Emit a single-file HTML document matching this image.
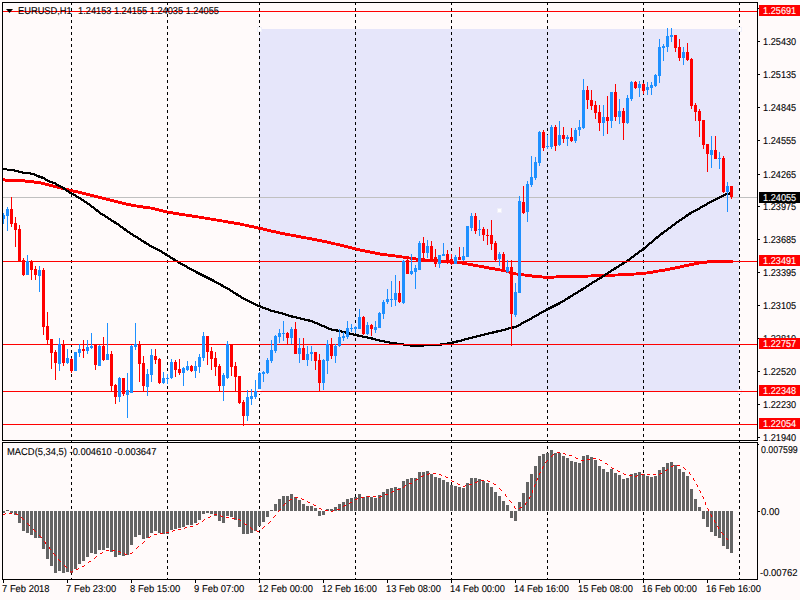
<!DOCTYPE html><html><head><meta charset="utf-8"><style>html,body{margin:0;padding:0;background:#fffafa;}svg{display:block;}text{font-family:"Liberation Sans", sans-serif;text-rendering:geometricPrecision;}</style></head><body>
<svg width="800" height="600" viewBox="0 0 800 600">
<rect x="0" y="0" width="800" height="600" fill="#fffafa"/>
<rect x="259" y="29" width="480" height="362" fill="#e6e6fa"/>
<rect x="3" y="197" width="754" height="1" fill="#c0c0c0"/>
<g stroke="#000" stroke-width="1" stroke-dasharray="3 3" shape-rendering="crispEdges"><line x1="71.5" y1="2" x2="71.5" y2="580" /><line x1="167.5" y1="2" x2="167.5" y2="580" /><line x1="259.5" y1="2" x2="259.5" y2="580" /><line x1="355.5" y1="2" x2="355.5" y2="580" /><line x1="451.5" y1="2" x2="451.5" y2="580" /><line x1="547.5" y1="2" x2="547.5" y2="580" /><line x1="643.5" y1="2" x2="643.5" y2="580" /><line x1="739.5" y1="2" x2="739.5" y2="580" /></g>
<g fill="#ff0000"><rect x="3" y="178" width="2" height="3"/><rect x="5" y="179" width="20" height="3"/><rect x="25" y="180" width="9" height="3"/><rect x="34" y="181" width="7" height="3"/><rect x="41" y="182" width="4" height="3"/><rect x="45" y="183" width="4" height="3"/><rect x="49" y="184" width="4" height="3"/><rect x="53" y="185" width="4" height="3"/><rect x="57" y="186" width="4" height="3"/><rect x="61" y="187" width="4" height="3"/><rect x="65" y="188" width="4" height="3"/><rect x="69" y="189" width="4" height="3"/><rect x="73" y="190" width="5" height="3"/><rect x="78" y="191" width="4" height="3"/><rect x="82" y="192" width="4" height="3"/><rect x="86" y="193" width="4" height="3"/><rect x="90" y="194" width="4" height="3"/><rect x="94" y="195" width="4" height="3"/><rect x="98" y="196" width="4" height="3"/><rect x="102" y="197" width="4" height="3"/><rect x="106" y="198" width="4" height="3"/><rect x="110" y="199" width="4" height="3"/><rect x="114" y="200" width="4" height="3"/><rect x="118" y="201" width="4" height="3"/><rect x="122" y="202" width="4" height="3"/><rect x="126" y="203" width="5" height="3"/><rect x="131" y="204" width="5" height="3"/><rect x="136" y="205" width="1" height="2"/><rect x="137" y="205" width="6" height="3"/><rect x="143" y="206" width="7" height="3"/><rect x="150" y="207" width="1" height="2"/><rect x="151" y="207" width="4" height="3"/><rect x="155" y="208" width="4" height="3"/><rect x="159" y="209" width="4" height="3"/><rect x="163" y="210" width="4" height="3"/><rect x="167" y="211" width="1" height="2"/><rect x="168" y="211" width="5" height="3"/><rect x="173" y="212" width="6" height="3"/><rect x="179" y="213" width="6" height="3"/><rect x="185" y="214" width="1" height="2"/><rect x="186" y="214" width="6" height="3"/><rect x="192" y="215" width="6" height="3"/><rect x="198" y="216" width="1" height="2"/><rect x="199" y="216" width="5" height="3"/><rect x="204" y="217" width="1" height="2"/><rect x="205" y="217" width="5" height="3"/><rect x="210" y="218" width="1" height="2"/><rect x="211" y="218" width="5" height="3"/><rect x="216" y="219" width="1" height="2"/><rect x="217" y="219" width="5" height="3"/><rect x="222" y="220" width="1" height="2"/><rect x="223" y="220" width="5" height="3"/><rect x="228" y="221" width="6" height="3"/><rect x="234" y="222" width="6" height="3"/><rect x="240" y="223" width="4" height="3"/><rect x="244" y="224" width="1" height="2"/><rect x="245" y="224" width="4" height="3"/><rect x="249" y="225" width="5" height="3"/><rect x="254" y="226" width="4" height="3"/><rect x="258" y="227" width="5" height="3"/><rect x="263" y="228" width="4" height="3"/><rect x="267" y="229" width="4" height="3"/><rect x="271" y="230" width="5" height="3"/><rect x="276" y="231" width="4" height="3"/><rect x="280" y="232" width="5" height="3"/><rect x="285" y="233" width="5" height="3"/><rect x="290" y="234" width="1" height="2"/><rect x="291" y="234" width="5" height="3"/><rect x="296" y="235" width="5" height="3"/><rect x="301" y="236" width="5" height="3"/><rect x="306" y="237" width="1" height="2"/><rect x="307" y="237" width="5" height="3"/><rect x="312" y="238" width="5" height="3"/><rect x="317" y="239" width="5" height="3"/><rect x="322" y="240" width="5" height="3"/><rect x="327" y="241" width="4" height="3"/><rect x="331" y="242" width="4" height="3"/><rect x="335" y="243" width="1" height="2"/><rect x="336" y="243" width="4" height="3"/><rect x="340" y="244" width="4" height="3"/><rect x="344" y="245" width="4" height="3"/><rect x="348" y="246" width="4" height="3"/><rect x="352" y="247" width="4" height="3"/><rect x="356" y="248" width="4" height="3"/><rect x="360" y="249" width="5" height="3"/><rect x="365" y="250" width="5" height="3"/><rect x="370" y="251" width="5" height="3"/><rect x="375" y="252" width="5" height="3"/><rect x="380" y="253" width="7" height="3"/><rect x="387" y="254" width="1" height="2"/><rect x="388" y="254" width="7" height="3"/><rect x="395" y="255" width="1" height="2"/><rect x="396" y="255" width="6" height="3"/><rect x="402" y="256" width="1" height="2"/><rect x="403" y="256" width="6" height="3"/><rect x="409" y="257" width="1" height="2"/><rect x="410" y="257" width="6" height="3"/><rect x="416" y="258" width="9" height="3"/><rect x="425" y="259" width="2" height="2"/><rect x="427" y="259" width="12" height="3"/><rect x="439" y="260" width="2" height="2"/><rect x="441" y="260" width="10" height="3"/><rect x="451" y="261" width="1" height="2"/><rect x="452" y="261" width="10" height="3"/><rect x="462" y="262" width="5" height="3"/><rect x="467" y="263" width="1" height="2"/><rect x="468" y="263" width="5" height="3"/><rect x="473" y="264" width="5" height="3"/><rect x="478" y="265" width="1" height="2"/><rect x="479" y="265" width="5" height="3"/><rect x="484" y="266" width="5" height="3"/><rect x="489" y="267" width="6" height="3"/><rect x="495" y="268" width="5" height="3"/><rect x="500" y="269" width="1" height="2"/><rect x="501" y="269" width="4" height="3"/><rect x="505" y="270" width="1" height="2"/><rect x="506" y="270" width="3" height="3"/><rect x="509" y="271" width="3" height="3"/><rect x="512" y="272" width="4" height="3"/><rect x="516" y="273" width="1" height="2"/><rect x="517" y="273" width="7" height="3"/><rect x="524" y="274" width="1" height="2"/><rect x="525" y="274" width="7" height="3"/><rect x="532" y="275" width="10" height="3"/><rect x="542" y="276" width="1" height="2"/><rect x="543" y="276" width="11" height="3"/><rect x="554" y="276" width="2" height="2"/><rect x="556" y="275" width="32" height="3"/><rect x="588" y="275" width="3" height="2"/><rect x="591" y="274" width="24" height="3"/><rect x="615" y="274" width="3" height="2"/><rect x="618" y="273" width="16" height="3"/><rect x="634" y="273" width="2" height="2"/><rect x="636" y="272" width="10" height="3"/><rect x="646" y="272" width="1" height="2"/><rect x="647" y="271" width="6" height="3"/><rect x="653" y="270" width="5" height="3"/><rect x="658" y="270" width="1" height="2"/><rect x="659" y="269" width="6" height="3"/><rect x="665" y="268" width="5" height="3"/><rect x="670" y="267" width="5" height="3"/><rect x="675" y="266" width="5" height="3"/><rect x="680" y="265" width="4" height="3"/><rect x="684" y="264" width="5" height="3"/><rect x="689" y="263" width="5" height="3"/><rect x="694" y="262" width="5" height="3"/><rect x="699" y="262" width="1" height="2"/><rect x="700" y="261" width="7" height="3"/><rect x="707" y="260" width="26" height="3"/></g>
<g fill="#000000"><rect x="3" y="168" width="4" height="2"/><rect x="7" y="169" width="7" height="2"/><rect x="14" y="169" width="1" height="3"/><rect x="15" y="170" width="3" height="2"/><rect x="18" y="170" width="1" height="3"/><rect x="19" y="171" width="3" height="2"/><rect x="22" y="171" width="1" height="3"/><rect x="23" y="172" width="7" height="2"/><rect x="30" y="172" width="1" height="3"/><rect x="31" y="173" width="3" height="2"/><rect x="34" y="173" width="1" height="3"/><rect x="35" y="174" width="1" height="2"/><rect x="36" y="174" width="1" height="3"/><rect x="37" y="175" width="1" height="2"/><rect x="38" y="175" width="2" height="3"/><rect x="40" y="176" width="1" height="2"/><rect x="41" y="176" width="2" height="3"/><rect x="43" y="177" width="1" height="2"/><rect x="44" y="177" width="1" height="3"/><rect x="45" y="178" width="1" height="3"/><rect x="46" y="179" width="1" height="2"/><rect x="47" y="179" width="1" height="3"/><rect x="48" y="180" width="1" height="2"/><rect x="49" y="180" width="1" height="3"/><rect x="50" y="181" width="2" height="2"/><rect x="52" y="181" width="1" height="3"/><rect x="53" y="182" width="2" height="2"/><rect x="55" y="182" width="1" height="3"/><rect x="56" y="183" width="1" height="3"/><rect x="57" y="184" width="1" height="2"/><rect x="58" y="184" width="1" height="3"/><rect x="59" y="185" width="1" height="2"/><rect x="60" y="185" width="1" height="3"/><rect x="61" y="186" width="1" height="2"/><rect x="62" y="186" width="1" height="3"/><rect x="63" y="187" width="2" height="3"/><rect x="65" y="188" width="1" height="3"/><rect x="66" y="189" width="1" height="3"/><rect x="67" y="190" width="1" height="2"/><rect x="68" y="190" width="1" height="3"/><rect x="69" y="191" width="1" height="3"/><rect x="70" y="192" width="1" height="2"/><rect x="71" y="192" width="1" height="3"/><rect x="72" y="193" width="1" height="2"/><rect x="73" y="193" width="1" height="3"/><rect x="74" y="194" width="1" height="2"/><rect x="75" y="194" width="1" height="3"/><rect x="76" y="195" width="1" height="3"/><rect x="77" y="196" width="1" height="2"/><rect x="78" y="196" width="1" height="3"/><rect x="79" y="197" width="1" height="2"/><rect x="80" y="197" width="1" height="3"/><rect x="81" y="198" width="1" height="3"/><rect x="82" y="199" width="1" height="2"/><rect x="83" y="199" width="1" height="3"/><rect x="84" y="200" width="1" height="3"/><rect x="85" y="201" width="1" height="2"/><rect x="86" y="201" width="1" height="3"/><rect x="87" y="202" width="1" height="3"/><rect x="88" y="203" width="1" height="2"/><rect x="89" y="203" width="1" height="3"/><rect x="90" y="204" width="1" height="3"/><rect x="91" y="205" width="1" height="3"/><rect x="92" y="206" width="1" height="2"/><rect x="93" y="206" width="1" height="3"/><rect x="94" y="207" width="1" height="3"/><rect x="95" y="208" width="1" height="3"/><rect x="96" y="209" width="2" height="3"/><rect x="98" y="210" width="1" height="3"/><rect x="99" y="211" width="1" height="3"/><rect x="100" y="212" width="1" height="3"/><rect x="101" y="213" width="1" height="2"/><rect x="102" y="213" width="1" height="3"/><rect x="103" y="214" width="1" height="2"/><rect x="104" y="214" width="1" height="3"/><rect x="105" y="215" width="1" height="3"/><rect x="106" y="216" width="1" height="2"/><rect x="107" y="216" width="1" height="3"/><rect x="108" y="217" width="1" height="3"/><rect x="109" y="218" width="1" height="2"/><rect x="110" y="218" width="1" height="3"/><rect x="111" y="219" width="1" height="3"/><rect x="112" y="220" width="1" height="2"/><rect x="113" y="220" width="1" height="3"/><rect x="114" y="221" width="2" height="3"/><rect x="116" y="222" width="1" height="3"/><rect x="117" y="223" width="1" height="2"/><rect x="118" y="223" width="1" height="3"/><rect x="119" y="224" width="1" height="3"/><rect x="120" y="225" width="1" height="3"/><rect x="121" y="226" width="1" height="2"/><rect x="122" y="226" width="1" height="3"/><rect x="123" y="227" width="1" height="3"/><rect x="124" y="228" width="2" height="3"/><rect x="126" y="229" width="1" height="3"/><rect x="127" y="230" width="1" height="3"/><rect x="128" y="231" width="1" height="2"/><rect x="129" y="231" width="1" height="3"/><rect x="130" y="232" width="1" height="3"/><rect x="131" y="233" width="1" height="2"/><rect x="132" y="233" width="1" height="3"/><rect x="133" y="234" width="1" height="3"/><rect x="134" y="235" width="1" height="2"/><rect x="135" y="235" width="1" height="3"/><rect x="136" y="236" width="1" height="2"/><rect x="137" y="236" width="1" height="3"/><rect x="138" y="237" width="1" height="3"/><rect x="139" y="238" width="1" height="2"/><rect x="140" y="238" width="1" height="3"/><rect x="141" y="239" width="1" height="3"/><rect x="142" y="240" width="1" height="2"/><rect x="143" y="240" width="1" height="3"/><rect x="144" y="241" width="2" height="3"/><rect x="146" y="242" width="1" height="3"/><rect x="147" y="243" width="1" height="2"/><rect x="148" y="243" width="1" height="3"/><rect x="149" y="244" width="1" height="3"/><rect x="150" y="245" width="1" height="2"/><rect x="151" y="245" width="1" height="3"/><rect x="152" y="246" width="1" height="2"/><rect x="153" y="246" width="1" height="3"/><rect x="154" y="247" width="1" height="2"/><rect x="155" y="247" width="1" height="3"/><rect x="156" y="248" width="1" height="2"/><rect x="157" y="248" width="1" height="3"/><rect x="158" y="249" width="1" height="2"/><rect x="159" y="249" width="1" height="3"/><rect x="160" y="250" width="1" height="2"/><rect x="161" y="250" width="1" height="3"/><rect x="162" y="251" width="1" height="3"/><rect x="163" y="252" width="1" height="2"/><rect x="164" y="252" width="1" height="3"/><rect x="165" y="253" width="2" height="3"/><rect x="167" y="254" width="1" height="3"/><rect x="168" y="255" width="1" height="2"/><rect x="169" y="255" width="1" height="3"/><rect x="170" y="256" width="1" height="3"/><rect x="171" y="257" width="1" height="2"/><rect x="172" y="257" width="1" height="3"/><rect x="173" y="258" width="2" height="3"/><rect x="175" y="259" width="1" height="3"/><rect x="176" y="260" width="1" height="2"/><rect x="177" y="260" width="1" height="3"/><rect x="178" y="261" width="1" height="3"/><rect x="179" y="262" width="1" height="2"/><rect x="180" y="262" width="1" height="3"/><rect x="181" y="263" width="1" height="2"/><rect x="182" y="263" width="1" height="3"/><rect x="183" y="264" width="1" height="2"/><rect x="184" y="264" width="1" height="3"/><rect x="185" y="265" width="1" height="2"/><rect x="186" y="265" width="1" height="3"/><rect x="187" y="266" width="1" height="3"/><rect x="188" y="267" width="1" height="2"/><rect x="189" y="267" width="1" height="3"/><rect x="190" y="268" width="1" height="2"/><rect x="191" y="268" width="1" height="3"/><rect x="192" y="269" width="1" height="2"/><rect x="193" y="269" width="1" height="3"/><rect x="194" y="270" width="1" height="2"/><rect x="195" y="270" width="1" height="3"/><rect x="196" y="271" width="2" height="3"/><rect x="198" y="272" width="2" height="3"/><rect x="200" y="273" width="2" height="3"/><rect x="202" y="274" width="2" height="3"/><rect x="204" y="275" width="2" height="3"/><rect x="206" y="276" width="2" height="3"/><rect x="208" y="277" width="2" height="3"/><rect x="210" y="278" width="2" height="3"/><rect x="212" y="279" width="2" height="3"/><rect x="214" y="280" width="1" height="3"/><rect x="215" y="281" width="1" height="2"/><rect x="216" y="281" width="1" height="3"/><rect x="217" y="282" width="1" height="2"/><rect x="218" y="282" width="1" height="3"/><rect x="219" y="283" width="1" height="2"/><rect x="220" y="283" width="1" height="3"/><rect x="221" y="284" width="2" height="3"/><rect x="223" y="285" width="1" height="3"/><rect x="224" y="286" width="1" height="2"/><rect x="225" y="286" width="1" height="3"/><rect x="226" y="287" width="1" height="2"/><rect x="227" y="287" width="1" height="3"/><rect x="228" y="288" width="1" height="2"/><rect x="229" y="288" width="1" height="3"/><rect x="230" y="289" width="1" height="3"/><rect x="231" y="290" width="1" height="2"/><rect x="232" y="290" width="1" height="3"/><rect x="233" y="291" width="1" height="3"/><rect x="234" y="292" width="1" height="2"/><rect x="235" y="292" width="1" height="3"/><rect x="236" y="293" width="2" height="3"/><rect x="238" y="294" width="1" height="3"/><rect x="239" y="295" width="1" height="2"/><rect x="240" y="295" width="1" height="3"/><rect x="241" y="296" width="1" height="3"/><rect x="242" y="297" width="1" height="2"/><rect x="243" y="297" width="1" height="3"/><rect x="244" y="298" width="1" height="2"/><rect x="245" y="298" width="1" height="3"/><rect x="246" y="299" width="1" height="2"/><rect x="247" y="299" width="1" height="3"/><rect x="248" y="300" width="1" height="2"/><rect x="249" y="300" width="1" height="3"/><rect x="250" y="301" width="1" height="2"/><rect x="251" y="301" width="1" height="3"/><rect x="252" y="302" width="1" height="2"/><rect x="253" y="302" width="1" height="3"/><rect x="254" y="303" width="1" height="2"/><rect x="255" y="303" width="1" height="3"/><rect x="256" y="304" width="1" height="2"/><rect x="257" y="304" width="1" height="3"/><rect x="258" y="305" width="2" height="2"/><rect x="260" y="305" width="1" height="3"/><rect x="261" y="306" width="1" height="2"/><rect x="262" y="306" width="1" height="3"/><rect x="263" y="307" width="2" height="2"/><rect x="265" y="307" width="1" height="3"/><rect x="266" y="308" width="2" height="2"/><rect x="268" y="308" width="1" height="3"/><rect x="269" y="309" width="1" height="2"/><rect x="270" y="309" width="1" height="3"/><rect x="271" y="310" width="3" height="2"/><rect x="274" y="310" width="1" height="3"/><rect x="275" y="311" width="3" height="2"/><rect x="278" y="311" width="1" height="3"/><rect x="279" y="312" width="3" height="2"/><rect x="282" y="312" width="1" height="3"/><rect x="283" y="313" width="2" height="2"/><rect x="285" y="313" width="1" height="3"/><rect x="286" y="314" width="2" height="2"/><rect x="288" y="314" width="1" height="3"/><rect x="289" y="315" width="2" height="2"/><rect x="291" y="315" width="2" height="3"/><rect x="293" y="316" width="3" height="2"/><rect x="296" y="316" width="1" height="3"/><rect x="297" y="317" width="3" height="2"/><rect x="300" y="317" width="1" height="3"/><rect x="301" y="318" width="3" height="2"/><rect x="304" y="318" width="1" height="3"/><rect x="305" y="319" width="3" height="2"/><rect x="308" y="319" width="2" height="3"/><rect x="310" y="320" width="2" height="2"/><rect x="312" y="320" width="1" height="3"/><rect x="313" y="321" width="1" height="2"/><rect x="314" y="321" width="1" height="3"/><rect x="315" y="322" width="2" height="2"/><rect x="317" y="322" width="1" height="3"/><rect x="318" y="323" width="1" height="2"/><rect x="319" y="323" width="1" height="3"/><rect x="320" y="324" width="1" height="2"/><rect x="321" y="324" width="1" height="3"/><rect x="322" y="325" width="2" height="2"/><rect x="324" y="325" width="1" height="3"/><rect x="325" y="326" width="1" height="2"/><rect x="326" y="326" width="1" height="3"/><rect x="327" y="327" width="1" height="2"/><rect x="328" y="327" width="1" height="3"/><rect x="329" y="328" width="2" height="2"/><rect x="331" y="328" width="1" height="3"/><rect x="332" y="329" width="4" height="2"/><rect x="336" y="329" width="2" height="3"/><rect x="338" y="330" width="3" height="2"/><rect x="341" y="330" width="1" height="3"/><rect x="342" y="331" width="3" height="2"/><rect x="345" y="331" width="1" height="3"/><rect x="346" y="332" width="3" height="2"/><rect x="349" y="332" width="1" height="3"/><rect x="350" y="333" width="3" height="2"/><rect x="353" y="333" width="1" height="3"/><rect x="354" y="334" width="3" height="2"/><rect x="357" y="334" width="2" height="3"/><rect x="359" y="335" width="3" height="2"/><rect x="362" y="335" width="1" height="3"/><rect x="363" y="336" width="4" height="2"/><rect x="367" y="336" width="1" height="3"/><rect x="368" y="337" width="3" height="2"/><rect x="371" y="337" width="2" height="3"/><rect x="373" y="338" width="2" height="2"/><rect x="375" y="338" width="1" height="3"/><rect x="376" y="339" width="3" height="2"/><rect x="379" y="339" width="1" height="3"/><rect x="380" y="340" width="4" height="2"/><rect x="384" y="340" width="1" height="3"/><rect x="385" y="341" width="4" height="2"/><rect x="389" y="341" width="1" height="3"/><rect x="390" y="342" width="6" height="2"/><rect x="396" y="342" width="1" height="3"/><rect x="397" y="343" width="6" height="2"/><rect x="403" y="343" width="1" height="3"/><rect x="404" y="344" width="6" height="2"/><rect x="410" y="344" width="14" height="3"/><rect x="424" y="344" width="16" height="2"/><rect x="440" y="343" width="2" height="3"/><rect x="442" y="343" width="5" height="2"/><rect x="447" y="342" width="2" height="3"/><rect x="449" y="342" width="3" height="2"/><rect x="452" y="341" width="2" height="3"/><rect x="454" y="341" width="2" height="2"/><rect x="456" y="340" width="2" height="3"/><rect x="458" y="340" width="3" height="2"/><rect x="461" y="339" width="1" height="3"/><rect x="462" y="339" width="2" height="2"/><rect x="464" y="338" width="1" height="3"/><rect x="465" y="338" width="3" height="2"/><rect x="468" y="337" width="1" height="3"/><rect x="469" y="337" width="3" height="2"/><rect x="472" y="336" width="1" height="3"/><rect x="473" y="336" width="3" height="2"/><rect x="476" y="335" width="1" height="3"/><rect x="477" y="335" width="3" height="2"/><rect x="480" y="334" width="1" height="3"/><rect x="481" y="334" width="3" height="2"/><rect x="484" y="333" width="1" height="3"/><rect x="485" y="333" width="3" height="2"/><rect x="488" y="332" width="1" height="3"/><rect x="489" y="332" width="3" height="2"/><rect x="492" y="331" width="2" height="3"/><rect x="494" y="331" width="2" height="2"/><rect x="496" y="330" width="2" height="3"/><rect x="498" y="330" width="3" height="2"/><rect x="501" y="329" width="1" height="3"/><rect x="502" y="329" width="3" height="2"/><rect x="505" y="328" width="1" height="3"/><rect x="506" y="328" width="2" height="2"/><rect x="508" y="327" width="1" height="3"/><rect x="509" y="327" width="3" height="2"/><rect x="512" y="326" width="2" height="3"/><rect x="514" y="326" width="2" height="2"/><rect x="516" y="325" width="1" height="3"/><rect x="517" y="325" width="1" height="2"/><rect x="518" y="324" width="1" height="3"/><rect x="519" y="324" width="1" height="2"/><rect x="520" y="323" width="1" height="3"/><rect x="521" y="322" width="1" height="3"/><rect x="522" y="322" width="1" height="2"/><rect x="523" y="321" width="1" height="3"/><rect x="524" y="321" width="1" height="2"/><rect x="525" y="320" width="1" height="3"/><rect x="526" y="320" width="1" height="2"/><rect x="527" y="319" width="1" height="3"/><rect x="528" y="319" width="1" height="2"/><rect x="529" y="318" width="1" height="3"/><rect x="530" y="318" width="1" height="2"/><rect x="531" y="317" width="1" height="3"/><rect x="532" y="316" width="1" height="3"/><rect x="533" y="316" width="1" height="2"/><rect x="534" y="315" width="1" height="3"/><rect x="535" y="315" width="1" height="2"/><rect x="536" y="314" width="1" height="3"/><rect x="537" y="314" width="1" height="2"/><rect x="538" y="313" width="1" height="3"/><rect x="539" y="312" width="1" height="3"/><rect x="540" y="312" width="1" height="2"/><rect x="541" y="311" width="1" height="3"/><rect x="542" y="311" width="1" height="2"/><rect x="543" y="310" width="1" height="3"/><rect x="544" y="310" width="1" height="2"/><rect x="545" y="309" width="1" height="3"/><rect x="546" y="308" width="2" height="3"/><rect x="548" y="307" width="2" height="3"/><rect x="550" y="306" width="2" height="3"/><rect x="552" y="305" width="2" height="3"/><rect x="554" y="304" width="2" height="3"/><rect x="556" y="303" width="2" height="3"/><rect x="558" y="302" width="2" height="3"/><rect x="560" y="301" width="1" height="3"/><rect x="561" y="301" width="1" height="2"/><rect x="562" y="300" width="1" height="3"/><rect x="563" y="300" width="1" height="2"/><rect x="564" y="299" width="1" height="3"/><rect x="565" y="298" width="1" height="3"/><rect x="566" y="298" width="1" height="2"/><rect x="567" y="297" width="1" height="3"/><rect x="568" y="296" width="2" height="3"/><rect x="570" y="295" width="1" height="3"/><rect x="571" y="295" width="1" height="2"/><rect x="572" y="294" width="1" height="3"/><rect x="573" y="293" width="1" height="3"/><rect x="574" y="293" width="1" height="2"/><rect x="575" y="292" width="1" height="3"/><rect x="576" y="292" width="1" height="2"/><rect x="577" y="291" width="1" height="3"/><rect x="578" y="290" width="1" height="3"/><rect x="579" y="290" width="1" height="2"/><rect x="580" y="289" width="1" height="3"/><rect x="581" y="288" width="2" height="3"/><rect x="583" y="287" width="1" height="3"/><rect x="584" y="287" width="1" height="2"/><rect x="585" y="286" width="1" height="3"/><rect x="586" y="285" width="1" height="3"/><rect x="587" y="285" width="1" height="2"/><rect x="588" y="284" width="1" height="3"/><rect x="589" y="283" width="1" height="3"/><rect x="590" y="283" width="1" height="2"/><rect x="591" y="282" width="1" height="3"/><rect x="592" y="281" width="1" height="3"/><rect x="593" y="281" width="1" height="2"/><rect x="594" y="280" width="1" height="3"/><rect x="595" y="280" width="1" height="2"/><rect x="596" y="279" width="1" height="3"/><rect x="597" y="278" width="1" height="3"/><rect x="598" y="278" width="1" height="2"/><rect x="599" y="277" width="1" height="3"/><rect x="600" y="277" width="1" height="2"/><rect x="601" y="276" width="1" height="3"/><rect x="602" y="275" width="1" height="3"/><rect x="603" y="275" width="1" height="2"/><rect x="604" y="274" width="1" height="3"/><rect x="605" y="273" width="1" height="3"/><rect x="606" y="273" width="1" height="2"/><rect x="607" y="272" width="1" height="3"/><rect x="608" y="271" width="1" height="3"/><rect x="609" y="271" width="1" height="2"/><rect x="610" y="270" width="1" height="3"/><rect x="611" y="269" width="1" height="3"/><rect x="612" y="269" width="1" height="2"/><rect x="613" y="268" width="1" height="3"/><rect x="614" y="267" width="2" height="3"/><rect x="616" y="266" width="1" height="3"/><rect x="617" y="266" width="1" height="2"/><rect x="618" y="265" width="1" height="3"/><rect x="619" y="264" width="1" height="3"/><rect x="620" y="264" width="1" height="2"/><rect x="621" y="263" width="1" height="3"/><rect x="622" y="262" width="2" height="3"/><rect x="624" y="261" width="1" height="3"/><rect x="625" y="261" width="1" height="2"/><rect x="626" y="260" width="1" height="3"/><rect x="627" y="259" width="1" height="3"/><rect x="628" y="259" width="1" height="2"/><rect x="629" y="258" width="1" height="3"/><rect x="630" y="257" width="1" height="3"/><rect x="631" y="256" width="1" height="3"/><rect x="632" y="256" width="1" height="2"/><rect x="633" y="255" width="1" height="3"/><rect x="634" y="254" width="1" height="3"/><rect x="635" y="253" width="1" height="3"/><rect x="636" y="253" width="1" height="2"/><rect x="637" y="252" width="1" height="3"/><rect x="638" y="251" width="1" height="3"/><rect x="639" y="250" width="1" height="3"/><rect x="640" y="250" width="1" height="2"/><rect x="641" y="249" width="1" height="3"/><rect x="642" y="248" width="1" height="3"/><rect x="643" y="247" width="2" height="3"/><rect x="645" y="246" width="1" height="3"/><rect x="646" y="245" width="1" height="3"/><rect x="647" y="244" width="1" height="3"/><rect x="648" y="243" width="1" height="3"/><rect x="649" y="242" width="1" height="3"/><rect x="650" y="242" width="1" height="2"/><rect x="651" y="241" width="1" height="3"/><rect x="652" y="240" width="1" height="3"/><rect x="653" y="239" width="1" height="3"/><rect x="654" y="238" width="1" height="3"/><rect x="655" y="237" width="1" height="3"/><rect x="656" y="236" width="2" height="3"/><rect x="658" y="235" width="1" height="3"/><rect x="659" y="234" width="1" height="3"/><rect x="660" y="233" width="1" height="3"/><rect x="661" y="232" width="2" height="3"/><rect x="663" y="231" width="1" height="3"/><rect x="664" y="230" width="1" height="3"/><rect x="665" y="230" width="1" height="2"/><rect x="666" y="229" width="1" height="3"/><rect x="667" y="228" width="1" height="3"/><rect x="668" y="227" width="1" height="3"/><rect x="669" y="227" width="1" height="2"/><rect x="670" y="226" width="1" height="3"/><rect x="671" y="225" width="1" height="3"/><rect x="672" y="224" width="1" height="3"/><rect x="673" y="224" width="1" height="2"/><rect x="674" y="223" width="1" height="3"/><rect x="675" y="222" width="1" height="3"/><rect x="676" y="221" width="1" height="3"/><rect x="677" y="221" width="1" height="2"/><rect x="678" y="220" width="1" height="3"/><rect x="679" y="219" width="1" height="3"/><rect x="680" y="219" width="1" height="2"/><rect x="681" y="218" width="1" height="3"/><rect x="682" y="217" width="1" height="3"/><rect x="683" y="217" width="1" height="2"/><rect x="684" y="216" width="1" height="3"/><rect x="685" y="215" width="1" height="3"/><rect x="686" y="214" width="2" height="3"/><rect x="688" y="213" width="1" height="3"/><rect x="689" y="212" width="2" height="3"/><rect x="691" y="211" width="1" height="3"/><rect x="692" y="211" width="1" height="2"/><rect x="693" y="210" width="1" height="3"/><rect x="694" y="210" width="1" height="2"/><rect x="695" y="209" width="1" height="3"/><rect x="696" y="209" width="1" height="2"/><rect x="697" y="208" width="1" height="3"/><rect x="698" y="208" width="1" height="2"/><rect x="699" y="207" width="1" height="3"/><rect x="700" y="206" width="1" height="3"/><rect x="701" y="206" width="1" height="2"/><rect x="702" y="205" width="1" height="3"/><rect x="703" y="205" width="1" height="2"/><rect x="704" y="204" width="1" height="3"/><rect x="705" y="204" width="1" height="2"/><rect x="706" y="203" width="1" height="3"/><rect x="707" y="202" width="1" height="3"/><rect x="708" y="202" width="1" height="2"/><rect x="709" y="201" width="1" height="3"/><rect x="710" y="201" width="1" height="2"/><rect x="711" y="200" width="1" height="3"/><rect x="712" y="200" width="1" height="2"/><rect x="713" y="199" width="1" height="3"/><rect x="714" y="199" width="1" height="2"/><rect x="715" y="198" width="1" height="3"/><rect x="716" y="198" width="1" height="2"/><rect x="717" y="197" width="1" height="3"/><rect x="718" y="197" width="1" height="2"/><rect x="719" y="196" width="1" height="3"/><rect x="720" y="196" width="1" height="2"/><rect x="721" y="195" width="1" height="3"/><rect x="722" y="195" width="1" height="2"/><rect x="723" y="194" width="1" height="3"/><rect x="724" y="194" width="1" height="2"/><rect x="725" y="193" width="1" height="3"/><rect x="726" y="193" width="3" height="2"/><rect x="729" y="192" width="1" height="3"/><rect x="730" y="192" width="2" height="2"/></g>
<rect x="257" y="27" width="5" height="5" fill="#f0f0fa"/>
<rect x="258" y="28" width="3" height="3" fill="#ffffff"/>
<rect x="737" y="27" width="5" height="5" fill="#f0f0fa"/>
<rect x="738" y="28" width="3" height="3" fill="#ffffff"/>
<rect x="257" y="389" width="5" height="5" fill="#f0f0fa"/>
<rect x="258" y="390" width="3" height="3" fill="#ffffff"/>
<rect x="737" y="389" width="5" height="5" fill="#f0f0fa"/>
<rect x="738" y="390" width="3" height="3" fill="#ffffff"/>
<rect x="497" y="208" width="5" height="5" fill="#f0f0fa"/>
<rect x="498" y="209" width="3" height="3" fill="#ffffff"/>
<rect x="3" y="11" width="754" height="1" fill="#ff0000"/>
<rect x="3" y="261" width="754" height="1" fill="#ff0000"/>
<rect x="3" y="344" width="754" height="1" fill="#ff0000"/>
<rect x="3" y="391" width="754" height="1" fill="#ff0000"/>
<rect x="3" y="424" width="754" height="1" fill="#ff0000"/>
<g fill="#1e90ff"><rect x="3" y="213" width="1" height="11"/><rect x="2" y="215" width="3" height="4"/><rect x="7" y="207" width="1" height="24"/><rect x="6" y="209" width="3" height="7"/><rect x="27" y="255" width="1" height="20"/><rect x="26" y="261" width="3" height="14"/><rect x="39" y="266" width="1" height="26"/><rect x="38" y="270" width="3" height="6"/><rect x="59" y="338" width="1" height="33"/><rect x="58" y="344" width="3" height="20"/><rect x="67" y="349" width="1" height="15"/><rect x="66" y="358" width="3" height="5"/><rect x="75" y="352" width="1" height="19"/><rect x="74" y="352" width="3" height="19"/><rect x="79" y="344" width="1" height="13"/><rect x="78" y="349" width="3" height="4"/><rect x="87" y="340" width="1" height="14"/><rect x="86" y="347" width="3" height="4"/><rect x="91" y="333" width="1" height="16"/><rect x="90" y="346" width="3" height="2"/><rect x="99" y="345" width="1" height="21"/><rect x="98" y="346" width="3" height="20"/><rect x="107" y="323" width="1" height="37"/><rect x="106" y="354" width="3" height="6"/><rect x="119" y="377" width="1" height="25"/><rect x="118" y="378" width="3" height="19"/><rect x="127" y="373" width="1" height="45"/><rect x="126" y="390" width="3" height="5"/><rect x="131" y="345" width="1" height="48"/><rect x="130" y="346" width="3" height="47"/><rect x="135" y="323" width="1" height="27"/><rect x="134" y="344" width="3" height="3"/><rect x="147" y="369" width="1" height="27"/><rect x="146" y="374" width="3" height="13"/><rect x="151" y="349" width="1" height="33"/><rect x="150" y="355" width="3" height="20"/><rect x="163" y="372" width="1" height="12"/><rect x="162" y="378" width="3" height="5"/><rect x="167" y="374" width="1" height="10"/><rect x="166" y="378" width="3" height="1"/><rect x="171" y="359" width="1" height="20"/><rect x="170" y="362" width="3" height="16"/><rect x="183" y="367" width="1" height="19"/><rect x="182" y="368" width="3" height="5"/><rect x="187" y="361" width="1" height="10"/><rect x="186" y="366" width="3" height="4"/><rect x="195" y="361" width="1" height="17"/><rect x="194" y="366" width="3" height="5"/><rect x="199" y="354" width="1" height="19"/><rect x="198" y="357" width="3" height="10"/><rect x="203" y="332" width="1" height="29"/><rect x="202" y="336" width="3" height="22"/><rect x="223" y="373" width="1" height="28"/><rect x="222" y="375" width="3" height="11"/><rect x="227" y="341" width="1" height="38"/><rect x="226" y="344" width="3" height="34"/><rect x="247" y="390" width="1" height="31"/><rect x="246" y="397" width="3" height="19"/><rect x="251" y="389" width="1" height="16"/><rect x="250" y="396" width="3" height="3"/><rect x="255" y="380" width="1" height="19"/><rect x="254" y="391" width="3" height="6"/><rect x="259" y="372" width="1" height="17"/><rect x="258" y="373" width="3" height="16"/><rect x="263" y="371" width="1" height="11"/><rect x="262" y="372" width="3" height="2"/><rect x="267" y="358" width="1" height="16"/><rect x="266" y="360" width="3" height="13"/><rect x="271" y="340" width="1" height="23"/><rect x="270" y="350" width="3" height="11"/><rect x="275" y="335" width="1" height="18"/><rect x="274" y="336" width="3" height="15"/><rect x="279" y="329" width="1" height="14"/><rect x="278" y="333" width="3" height="4"/><rect x="283" y="321" width="1" height="20"/><rect x="282" y="333" width="3" height="1"/><rect x="291" y="327" width="1" height="17"/><rect x="290" y="329" width="3" height="9"/><rect x="299" y="338" width="1" height="25"/><rect x="298" y="348" width="3" height="6"/><rect x="307" y="346" width="1" height="20"/><rect x="306" y="354" width="3" height="6"/><rect x="311" y="346" width="1" height="15"/><rect x="310" y="352" width="3" height="2"/><rect x="323" y="359" width="1" height="31"/><rect x="322" y="360" width="3" height="23"/><rect x="327" y="340" width="1" height="34"/><rect x="326" y="344" width="3" height="17"/><rect x="335" y="344" width="1" height="19"/><rect x="334" y="346" width="3" height="10"/><rect x="339" y="329" width="1" height="18"/><rect x="338" y="337" width="3" height="9"/><rect x="343" y="332" width="1" height="9"/><rect x="342" y="336" width="3" height="2"/><rect x="347" y="321" width="1" height="18"/><rect x="346" y="328" width="3" height="9"/><rect x="351" y="324" width="1" height="8"/><rect x="350" y="328" width="3" height="1"/><rect x="355" y="326" width="1" height="7"/><rect x="354" y="327" width="3" height="2"/><rect x="359" y="309" width="1" height="20"/><rect x="358" y="317" width="3" height="12"/><rect x="367" y="322" width="1" height="13"/><rect x="366" y="325" width="3" height="9"/><rect x="375" y="321" width="1" height="12"/><rect x="374" y="327" width="3" height="3"/><rect x="379" y="312" width="1" height="16"/><rect x="378" y="313" width="3" height="15"/><rect x="383" y="300" width="1" height="19"/><rect x="382" y="302" width="3" height="12"/><rect x="387" y="289" width="1" height="15"/><rect x="386" y="299" width="3" height="3"/><rect x="391" y="281" width="1" height="26"/><rect x="390" y="299" width="3" height="1"/><rect x="395" y="275" width="1" height="31"/><rect x="394" y="293" width="3" height="7"/><rect x="403" y="260" width="1" height="44"/><rect x="402" y="261" width="3" height="42"/><rect x="411" y="254" width="1" height="21"/><rect x="410" y="271" width="3" height="3"/><rect x="415" y="265" width="1" height="24"/><rect x="414" y="268" width="3" height="4"/><rect x="419" y="241" width="1" height="29"/><rect x="418" y="243" width="3" height="27"/><rect x="427" y="240" width="1" height="18"/><rect x="426" y="246" width="3" height="7"/><rect x="439" y="255" width="1" height="13"/><rect x="438" y="255" width="3" height="9"/><rect x="443" y="243" width="1" height="13"/><rect x="442" y="254" width="3" height="2"/><rect x="455" y="255" width="1" height="9"/><rect x="454" y="257" width="3" height="7"/><rect x="463" y="247" width="1" height="14"/><rect x="462" y="256" width="3" height="4"/><rect x="467" y="226" width="1" height="31"/><rect x="466" y="226" width="3" height="31"/><rect x="471" y="213" width="1" height="18"/><rect x="470" y="216" width="3" height="12"/><rect x="479" y="220" width="1" height="16"/><rect x="478" y="229" width="3" height="1"/><rect x="499" y="252" width="1" height="14"/><rect x="498" y="254" width="3" height="5"/><rect x="507" y="260" width="1" height="13"/><rect x="506" y="267" width="3" height="5"/><rect x="515" y="283" width="1" height="34"/><rect x="514" y="292" width="3" height="23"/><rect x="519" y="196" width="1" height="97"/><rect x="518" y="201" width="3" height="92"/><rect x="527" y="181" width="1" height="41"/><rect x="526" y="184" width="3" height="28"/><rect x="531" y="156" width="1" height="31"/><rect x="530" y="177" width="3" height="8"/><rect x="535" y="157" width="1" height="23"/><rect x="534" y="162" width="3" height="16"/><rect x="539" y="131" width="1" height="35"/><rect x="538" y="132" width="3" height="31"/><rect x="547" y="135" width="1" height="14"/><rect x="546" y="146" width="3" height="1"/><rect x="551" y="125" width="1" height="24"/><rect x="550" y="127" width="3" height="20"/><rect x="559" y="121" width="1" height="25"/><rect x="558" y="135" width="3" height="10"/><rect x="567" y="135" width="1" height="11"/><rect x="566" y="137" width="3" height="2"/><rect x="575" y="128" width="1" height="15"/><rect x="574" y="130" width="3" height="11"/><rect x="579" y="120" width="1" height="16"/><rect x="578" y="127" width="3" height="3"/><rect x="583" y="79" width="1" height="50"/><rect x="582" y="90" width="3" height="38"/><rect x="603" y="105" width="1" height="31"/><rect x="602" y="117" width="3" height="6"/><rect x="611" y="92" width="1" height="36"/><rect x="610" y="92" width="3" height="29"/><rect x="619" y="99" width="1" height="25"/><rect x="618" y="111" width="3" height="6"/><rect x="627" y="95" width="1" height="29"/><rect x="626" y="98" width="3" height="25"/><rect x="631" y="81" width="1" height="20"/><rect x="630" y="82" width="3" height="17"/><rect x="639" y="81" width="1" height="16"/><rect x="638" y="84" width="3" height="4"/><rect x="647" y="82" width="1" height="13"/><rect x="646" y="87" width="3" height="3"/><rect x="651" y="82" width="1" height="13"/><rect x="650" y="85" width="3" height="3"/><rect x="655" y="74" width="1" height="13"/><rect x="654" y="75" width="3" height="11"/><rect x="659" y="39" width="1" height="44"/><rect x="658" y="47" width="3" height="29"/><rect x="663" y="44" width="1" height="17"/><rect x="662" y="46" width="3" height="2"/><rect x="667" y="28" width="1" height="24"/><rect x="666" y="36" width="3" height="11"/><rect x="671" y="28" width="1" height="14"/><rect x="670" y="35" width="3" height="2"/><rect x="683" y="47" width="1" height="18"/><rect x="682" y="52" width="3" height="6"/><rect x="711" y="136" width="1" height="32"/><rect x="710" y="150" width="3" height="5"/><rect x="719" y="152" width="1" height="17"/><rect x="718" y="158" width="3" height="1"/><rect x="727" y="182" width="1" height="30"/><rect x="726" y="186" width="3" height="6"/></g>
<g fill="#ff0000"><rect x="11" y="197" width="1" height="30"/><rect x="10" y="209" width="3" height="15"/><rect x="15" y="217" width="1" height="30"/><rect x="14" y="223" width="3" height="7"/><rect x="19" y="225" width="1" height="37"/><rect x="18" y="229" width="3" height="33"/><rect x="23" y="258" width="1" height="18"/><rect x="22" y="260" width="3" height="15"/><rect x="31" y="260" width="1" height="20"/><rect x="30" y="261" width="3" height="9"/><rect x="35" y="266" width="1" height="14"/><rect x="34" y="269" width="3" height="6"/><rect x="43" y="268" width="1" height="67"/><rect x="42" y="270" width="3" height="57"/><rect x="47" y="312" width="1" height="32"/><rect x="46" y="326" width="3" height="14"/><rect x="51" y="339" width="1" height="30"/><rect x="50" y="339" width="3" height="14"/><rect x="55" y="350" width="1" height="30"/><rect x="54" y="352" width="3" height="11"/><rect x="63" y="340" width="1" height="26"/><rect x="62" y="344" width="3" height="19"/><rect x="71" y="358" width="1" height="15"/><rect x="70" y="359" width="3" height="12"/><rect x="83" y="340" width="1" height="18"/><rect x="82" y="349" width="3" height="2"/><rect x="95" y="345" width="1" height="25"/><rect x="94" y="345" width="3" height="20"/><rect x="103" y="337" width="1" height="24"/><rect x="102" y="346" width="3" height="14"/><rect x="111" y="351" width="1" height="40"/><rect x="110" y="354" width="3" height="32"/><rect x="115" y="384" width="1" height="20"/><rect x="114" y="385" width="3" height="12"/><rect x="123" y="378" width="1" height="18"/><rect x="122" y="378" width="3" height="16"/><rect x="139" y="341" width="1" height="41"/><rect x="138" y="344" width="3" height="20"/><rect x="143" y="356" width="1" height="35"/><rect x="142" y="363" width="3" height="23"/><rect x="155" y="349" width="1" height="15"/><rect x="154" y="356" width="3" height="4"/><rect x="159" y="358" width="1" height="26"/><rect x="158" y="359" width="3" height="24"/><rect x="175" y="360" width="1" height="17"/><rect x="174" y="362" width="3" height="8"/><rect x="179" y="359" width="1" height="16"/><rect x="178" y="369" width="3" height="4"/><rect x="191" y="365" width="1" height="7"/><rect x="190" y="366" width="3" height="5"/><rect x="207" y="336" width="1" height="29"/><rect x="206" y="336" width="3" height="16"/><rect x="211" y="347" width="1" height="23"/><rect x="210" y="351" width="3" height="8"/><rect x="215" y="352" width="1" height="24"/><rect x="214" y="358" width="3" height="9"/><rect x="219" y="364" width="1" height="28"/><rect x="218" y="366" width="3" height="20"/><rect x="231" y="344" width="1" height="32"/><rect x="230" y="344" width="3" height="23"/><rect x="235" y="362" width="1" height="29"/><rect x="234" y="366" width="3" height="11"/><rect x="239" y="376" width="1" height="28"/><rect x="238" y="376" width="3" height="27"/><rect x="243" y="400" width="1" height="26"/><rect x="242" y="402" width="3" height="14"/><rect x="287" y="332" width="1" height="12"/><rect x="286" y="333" width="3" height="5"/><rect x="295" y="322" width="1" height="32"/><rect x="294" y="329" width="3" height="25"/><rect x="303" y="338" width="1" height="22"/><rect x="302" y="348" width="3" height="12"/><rect x="315" y="352" width="1" height="18"/><rect x="314" y="352" width="3" height="9"/><rect x="319" y="354" width="1" height="37"/><rect x="318" y="360" width="3" height="23"/><rect x="331" y="338" width="1" height="21"/><rect x="330" y="344" width="3" height="12"/><rect x="363" y="316" width="1" height="19"/><rect x="362" y="317" width="3" height="17"/><rect x="371" y="324" width="1" height="12"/><rect x="370" y="325" width="3" height="4"/><rect x="399" y="281" width="1" height="22"/><rect x="398" y="293" width="3" height="9"/><rect x="407" y="258" width="1" height="16"/><rect x="406" y="260" width="3" height="14"/><rect x="423" y="237" width="1" height="22"/><rect x="422" y="243" width="3" height="10"/><rect x="431" y="241" width="1" height="19"/><rect x="430" y="246" width="3" height="14"/><rect x="435" y="249" width="1" height="18"/><rect x="434" y="257" width="3" height="7"/><rect x="447" y="250" width="1" height="14"/><rect x="446" y="254" width="3" height="9"/><rect x="451" y="254" width="1" height="11"/><rect x="450" y="259" width="3" height="5"/><rect x="459" y="247" width="1" height="13"/><rect x="458" y="257" width="3" height="3"/><rect x="475" y="213" width="1" height="21"/><rect x="474" y="216" width="3" height="15"/><rect x="483" y="227" width="1" height="14"/><rect x="482" y="229" width="3" height="6"/><rect x="487" y="229" width="1" height="16"/><rect x="486" y="235" width="3" height="1"/><rect x="491" y="220" width="1" height="30"/><rect x="490" y="235" width="3" height="9"/><rect x="495" y="241" width="1" height="20"/><rect x="494" y="243" width="3" height="17"/><rect x="503" y="252" width="1" height="20"/><rect x="502" y="254" width="3" height="17"/><rect x="511" y="260" width="1" height="86"/><rect x="510" y="267" width="3" height="47"/><rect x="523" y="186" width="1" height="28"/><rect x="522" y="202" width="3" height="11"/><rect x="543" y="130" width="1" height="21"/><rect x="542" y="132" width="3" height="16"/><rect x="555" y="125" width="1" height="26"/><rect x="554" y="127" width="3" height="19"/><rect x="563" y="127" width="1" height="16"/><rect x="562" y="135" width="3" height="4"/><rect x="571" y="128" width="1" height="14"/><rect x="570" y="137" width="3" height="4"/><rect x="587" y="86" width="1" height="23"/><rect x="586" y="90" width="3" height="10"/><rect x="591" y="90" width="1" height="20"/><rect x="590" y="100" width="3" height="6"/><rect x="595" y="101" width="1" height="18"/><rect x="594" y="105" width="3" height="8"/><rect x="599" y="105" width="1" height="26"/><rect x="598" y="112" width="3" height="11"/><rect x="607" y="96" width="1" height="38"/><rect x="606" y="117" width="3" height="4"/><rect x="615" y="84" width="1" height="37"/><rect x="614" y="92" width="3" height="25"/><rect x="623" y="108" width="1" height="32"/><rect x="622" y="111" width="3" height="12"/><rect x="635" y="81" width="1" height="8"/><rect x="634" y="82" width="3" height="6"/><rect x="643" y="83" width="1" height="11"/><rect x="642" y="84" width="3" height="7"/><rect x="675" y="35" width="1" height="17"/><rect x="674" y="35" width="3" height="13"/><rect x="679" y="39" width="1" height="22"/><rect x="678" y="47" width="3" height="11"/><rect x="687" y="43" width="1" height="18"/><rect x="686" y="52" width="3" height="8"/><rect x="691" y="58" width="1" height="51"/><rect x="690" y="59" width="3" height="47"/><rect x="695" y="103" width="1" height="18"/><rect x="694" y="105" width="3" height="7"/><rect x="699" y="109" width="1" height="28"/><rect x="698" y="111" width="3" height="10"/><rect x="703" y="120" width="1" height="29"/><rect x="702" y="120" width="3" height="25"/><rect x="707" y="144" width="1" height="28"/><rect x="706" y="144" width="3" height="10"/><rect x="715" y="136" width="1" height="23"/><rect x="714" y="150" width="3" height="9"/><rect x="723" y="156" width="1" height="37"/><rect x="722" y="158" width="3" height="34"/><rect x="731" y="186" width="1" height="13"/><rect x="730" y="186" width="3" height="11"/></g>
<g fill="#646464"><rect x="2" y="511" width="3" height="2"/><rect x="6" y="510" width="3" height="1"/><rect x="10" y="511" width="3" height="2"/><rect x="14" y="511" width="3" height="4"/><rect x="18" y="511" width="3" height="12"/><rect x="22" y="511" width="3" height="20"/><rect x="26" y="511" width="3" height="22"/><rect x="30" y="511" width="3" height="24"/><rect x="34" y="511" width="3" height="27"/><rect x="38" y="511" width="3" height="27"/><rect x="42" y="511" width="3" height="38"/><rect x="46" y="511" width="3" height="48"/><rect x="50" y="511" width="3" height="55"/><rect x="54" y="511" width="3" height="62"/><rect x="58" y="511" width="3" height="60"/><rect x="62" y="511" width="3" height="62"/><rect x="66" y="511" width="3" height="61"/><rect x="70" y="511" width="3" height="62"/><rect x="74" y="511" width="3" height="58"/><rect x="78" y="511" width="3" height="53"/><rect x="82" y="511" width="3" height="50"/><rect x="86" y="511" width="3" height="46"/><rect x="90" y="511" width="3" height="42"/><rect x="94" y="511" width="3" height="43"/><rect x="98" y="511" width="3" height="39"/><rect x="102" y="511" width="3" height="39"/><rect x="106" y="511" width="3" height="37"/><rect x="110" y="511" width="3" height="41"/><rect x="114" y="511" width="3" height="46"/><rect x="118" y="511" width="3" height="44"/><rect x="122" y="511" width="3" height="45"/><rect x="126" y="511" width="3" height="44"/><rect x="130" y="511" width="3" height="34"/><rect x="134" y="511" width="3" height="26"/><rect x="138" y="511" width="3" height="24"/><rect x="142" y="511" width="3" height="28"/><rect x="146" y="511" width="3" height="27"/><rect x="150" y="511" width="3" height="22"/><rect x="154" y="511" width="3" height="20"/><rect x="158" y="511" width="3" height="22"/><rect x="162" y="511" width="3" height="23"/><rect x="166" y="511" width="3" height="23"/><rect x="170" y="511" width="3" height="19"/><rect x="174" y="511" width="3" height="18"/><rect x="178" y="511" width="3" height="17"/><rect x="182" y="511" width="3" height="16"/><rect x="186" y="511" width="3" height="14"/><rect x="190" y="511" width="3" height="14"/><rect x="194" y="511" width="3" height="12"/><rect x="198" y="511" width="3" height="9"/><rect x="202" y="511" width="3" height="3"/><rect x="206" y="511" width="3" height="2"/><rect x="210" y="511" width="3" height="3"/><rect x="214" y="511" width="3" height="5"/><rect x="218" y="511" width="3" height="10"/><rect x="222" y="511" width="3" height="12"/><rect x="226" y="511" width="3" height="5"/><rect x="230" y="511" width="3" height="6"/><rect x="234" y="511" width="3" height="9"/><rect x="238" y="511" width="3" height="16"/><rect x="242" y="511" width="3" height="23"/><rect x="246" y="511" width="3" height="23"/><rect x="250" y="511" width="3" height="22"/><rect x="254" y="511" width="3" height="20"/><rect x="258" y="511" width="3" height="15"/><rect x="262" y="511" width="3" height="11"/><rect x="266" y="511" width="3" height="6"/><rect x="270" y="510" width="3" height="1"/><rect x="274" y="504" width="3" height="7"/><rect x="278" y="499" width="3" height="12"/><rect x="282" y="496" width="3" height="15"/><rect x="286" y="496" width="3" height="15"/><rect x="290" y="494" width="3" height="17"/><rect x="294" y="497" width="3" height="14"/><rect x="298" y="500" width="3" height="11"/><rect x="302" y="504" width="3" height="7"/><rect x="306" y="506" width="3" height="5"/><rect x="310" y="506" width="3" height="5"/><rect x="314" y="508" width="3" height="3"/><rect x="318" y="511" width="3" height="5"/><rect x="322" y="511" width="3" height="4"/><rect x="326" y="509" width="3" height="2"/><rect x="330" y="509" width="3" height="2"/><rect x="334" y="507" width="3" height="4"/><rect x="338" y="504" width="3" height="7"/><rect x="342" y="502" width="3" height="9"/><rect x="346" y="499" width="3" height="12"/><rect x="350" y="498" width="3" height="13"/><rect x="354" y="497" width="3" height="14"/><rect x="358" y="494" width="3" height="17"/><rect x="362" y="497" width="3" height="14"/><rect x="366" y="496" width="3" height="15"/><rect x="370" y="497" width="3" height="14"/><rect x="374" y="498" width="3" height="13"/><rect x="378" y="495" width="3" height="16"/><rect x="382" y="492" width="3" height="19"/><rect x="386" y="489" width="3" height="22"/><rect x="390" y="488" width="3" height="23"/><rect x="394" y="487" width="3" height="24"/><rect x="398" y="488" width="3" height="23"/><rect x="402" y="481" width="3" height="30"/><rect x="406" y="479" width="3" height="32"/><rect x="410" y="478" width="3" height="33"/><rect x="414" y="478" width="3" height="33"/><rect x="418" y="472" width="3" height="39"/><rect x="422" y="472" width="3" height="39"/><rect x="426" y="471" width="3" height="40"/><rect x="430" y="474" width="3" height="37"/><rect x="434" y="477" width="3" height="34"/><rect x="438" y="478" width="3" height="33"/><rect x="442" y="480" width="3" height="31"/><rect x="446" y="482" width="3" height="29"/><rect x="450" y="485" width="3" height="26"/><rect x="454" y="486" width="3" height="25"/><rect x="458" y="487" width="3" height="24"/><rect x="462" y="488" width="3" height="23"/><rect x="466" y="483" width="3" height="28"/><rect x="470" y="478" width="3" height="33"/><rect x="474" y="478" width="3" height="33"/><rect x="478" y="479" width="3" height="32"/><rect x="482" y="481" width="3" height="30"/><rect x="486" y="483" width="3" height="28"/><rect x="490" y="487" width="3" height="24"/><rect x="494" y="492" width="3" height="19"/><rect x="498" y="496" width="3" height="15"/><rect x="502" y="501" width="3" height="10"/><rect x="506" y="505" width="3" height="6"/><rect x="510" y="511" width="3" height="7"/><rect x="514" y="511" width="3" height="10"/><rect x="518" y="502" width="3" height="9"/><rect x="522" y="493" width="3" height="18"/><rect x="526" y="482" width="3" height="29"/><rect x="530" y="474" width="3" height="37"/><rect x="534" y="466" width="3" height="45"/><rect x="538" y="456" width="3" height="55"/><rect x="542" y="454" width="3" height="57"/><rect x="546" y="453" width="3" height="58"/><rect x="550" y="450" width="3" height="61"/><rect x="554" y="453" width="3" height="58"/><rect x="558" y="453" width="3" height="58"/><rect x="562" y="456" width="3" height="55"/><rect x="566" y="458" width="3" height="53"/><rect x="570" y="461" width="3" height="50"/><rect x="574" y="462" width="3" height="49"/><rect x="578" y="463" width="3" height="48"/><rect x="582" y="456" width="3" height="55"/><rect x="586" y="455" width="3" height="56"/><rect x="590" y="457" width="3" height="54"/><rect x="594" y="460" width="3" height="51"/><rect x="598" y="466" width="3" height="45"/><rect x="602" y="469" width="3" height="42"/><rect x="606" y="472" width="3" height="39"/><rect x="610" y="469" width="3" height="42"/><rect x="614" y="473" width="3" height="38"/><rect x="618" y="475" width="3" height="36"/><rect x="622" y="479" width="3" height="32"/><rect x="626" y="478" width="3" height="33"/><rect x="630" y="474" width="3" height="37"/><rect x="634" y="473" width="3" height="38"/><rect x="638" y="472" width="3" height="39"/><rect x="642" y="474" width="3" height="37"/><rect x="646" y="476" width="3" height="35"/><rect x="650" y="477" width="3" height="34"/><rect x="654" y="476" width="3" height="35"/><rect x="658" y="470" width="3" height="41"/><rect x="662" y="467" width="3" height="44"/><rect x="666" y="463" width="3" height="48"/><rect x="670" y="462" width="3" height="49"/><rect x="674" y="465" width="3" height="46"/><rect x="678" y="469" width="3" height="42"/><rect x="682" y="472" width="3" height="39"/><rect x="686" y="476" width="3" height="35"/><rect x="690" y="489" width="3" height="22"/><rect x="694" y="499" width="3" height="12"/><rect x="698" y="507" width="3" height="4"/><rect x="702" y="511" width="3" height="8"/><rect x="706" y="511" width="3" height="16"/><rect x="710" y="511" width="3" height="21"/><rect x="714" y="511" width="3" height="25"/><rect x="718" y="511" width="3" height="27"/><rect x="722" y="511" width="3" height="35"/><rect x="726" y="511" width="3" height="38"/><rect x="730" y="511" width="3" height="42"/></g>
<g fill="#ff0000"><rect x="3" y="514" width="1" height="1"/><rect x="4" y="514" width="1" height="1"/><rect x="5" y="513" width="1" height="1"/><rect x="9" y="513" width="1" height="1"/><rect x="10" y="513" width="1" height="1"/><rect x="11" y="513" width="1" height="1"/><rect x="15" y="513" width="1" height="1"/><rect x="16" y="514" width="1" height="1"/><rect x="17" y="514" width="1" height="1"/><rect x="21" y="517" width="1" height="1"/><rect x="22" y="518" width="1" height="1"/><rect x="23" y="519" width="1" height="1"/><rect x="27" y="523" width="1" height="1"/><rect x="28" y="524" width="1" height="1"/><rect x="29" y="525" width="1" height="1"/><rect x="33" y="529" width="1" height="1"/><rect x="34" y="530" width="1" height="1"/><rect x="35" y="531" width="1" height="1"/><rect x="39" y="535" width="1" height="1"/><rect x="40" y="536" width="1" height="1"/><rect x="41" y="537" width="1" height="1"/><rect x="44" y="541" width="1" height="1"/><rect x="45" y="542" width="1" height="1"/><rect x="45" y="543" width="1" height="1"/><rect x="49" y="547" width="1" height="1"/><rect x="49" y="548" width="1" height="1"/><rect x="50" y="549" width="1" height="1"/><rect x="53" y="553" width="1" height="1"/><rect x="54" y="554" width="1" height="1"/><rect x="55" y="555" width="1" height="1"/><rect x="58" y="559" width="1" height="1"/><rect x="59" y="560" width="1" height="1"/><rect x="60" y="561" width="1" height="1"/><rect x="64" y="565" width="1" height="1"/><rect x="65" y="566" width="1" height="1"/><rect x="66" y="567" width="1" height="1"/><rect x="70" y="571" width="1" height="1"/><rect x="71" y="572" width="1" height="1"/><rect x="72" y="571" width="1" height="1"/><rect x="76" y="569" width="1" height="1"/><rect x="77" y="569" width="1" height="1"/><rect x="78" y="568" width="1" height="1"/><rect x="82" y="566" width="1" height="1"/><rect x="83" y="566" width="1" height="1"/><rect x="84" y="565" width="1" height="1"/><rect x="88" y="562" width="1" height="1"/><rect x="89" y="561" width="1" height="1"/><rect x="90" y="561" width="1" height="1"/><rect x="94" y="558" width="1" height="1"/><rect x="95" y="557" width="1" height="1"/><rect x="96" y="556" width="1" height="1"/><rect x="100" y="553" width="1" height="1"/><rect x="101" y="553" width="1" height="1"/><rect x="102" y="552" width="1" height="1"/><rect x="106" y="550" width="1" height="1"/><rect x="107" y="550" width="1" height="1"/><rect x="108" y="550" width="1" height="1"/><rect x="112" y="550" width="1" height="1"/><rect x="113" y="550" width="1" height="1"/><rect x="114" y="550" width="1" height="1"/><rect x="118" y="551" width="1" height="1"/><rect x="119" y="551" width="1" height="1"/><rect x="120" y="552" width="1" height="1"/><rect x="124" y="553" width="1" height="1"/><rect x="125" y="554" width="1" height="1"/><rect x="126" y="554" width="1" height="1"/><rect x="130" y="553" width="1" height="1"/><rect x="131" y="553" width="1" height="1"/><rect x="132" y="552" width="1" height="1"/><rect x="136" y="548" width="1" height="1"/><rect x="137" y="547" width="1" height="1"/><rect x="138" y="546" width="1" height="1"/><rect x="142" y="543" width="1" height="1"/><rect x="143" y="542" width="1" height="1"/><rect x="144" y="541" width="1" height="1"/><rect x="148" y="537" width="1" height="1"/><rect x="149" y="537" width="1" height="1"/><rect x="150" y="536" width="1" height="1"/><rect x="154" y="534" width="1" height="1"/><rect x="155" y="534" width="1" height="1"/><rect x="156" y="534" width="1" height="1"/><rect x="160" y="533" width="1" height="1"/><rect x="161" y="533" width="1" height="1"/><rect x="162" y="533" width="1" height="1"/><rect x="166" y="532" width="1" height="1"/><rect x="167" y="532" width="1" height="1"/><rect x="168" y="532" width="1" height="1"/><rect x="172" y="531" width="1" height="1"/><rect x="173" y="530" width="1" height="1"/><rect x="174" y="530" width="1" height="1"/><rect x="178" y="529" width="1" height="1"/><rect x="179" y="529" width="1" height="1"/><rect x="180" y="529" width="1" height="1"/><rect x="184" y="528" width="1" height="1"/><rect x="185" y="527" width="1" height="1"/><rect x="186" y="527" width="1" height="1"/><rect x="190" y="526" width="1" height="1"/><rect x="191" y="526" width="1" height="1"/><rect x="192" y="526" width="1" height="1"/><rect x="196" y="524" width="1" height="1"/><rect x="197" y="524" width="1" height="1"/><rect x="198" y="523" width="1" height="1"/><rect x="202" y="521" width="1" height="1"/><rect x="203" y="520" width="1" height="1"/><rect x="204" y="519" width="1" height="1"/><rect x="208" y="517" width="1" height="1"/><rect x="209" y="517" width="1" height="1"/><rect x="210" y="516" width="1" height="1"/><rect x="214" y="514" width="1" height="1"/><rect x="215" y="514" width="1" height="1"/><rect x="216" y="514" width="1" height="1"/><rect x="220" y="515" width="1" height="1"/><rect x="221" y="516" width="1" height="1"/><rect x="222" y="516" width="1" height="1"/><rect x="226" y="517" width="1" height="1"/><rect x="227" y="517" width="1" height="1"/><rect x="228" y="517" width="1" height="1"/><rect x="232" y="518" width="1" height="1"/><rect x="233" y="518" width="1" height="1"/><rect x="234" y="518" width="1" height="1"/><rect x="238" y="519" width="1" height="1"/><rect x="239" y="519" width="1" height="1"/><rect x="240" y="520" width="1" height="1"/><rect x="244" y="523" width="1" height="1"/><rect x="245" y="524" width="1" height="1"/><rect x="246" y="524" width="1" height="1"/><rect x="250" y="527" width="1" height="1"/><rect x="251" y="528" width="1" height="1"/><rect x="252" y="529" width="1" height="1"/><rect x="256" y="530" width="1" height="1"/><rect x="257" y="531" width="1" height="1"/><rect x="258" y="531" width="1" height="1"/><rect x="262" y="528" width="1" height="1"/><rect x="263" y="527" width="1" height="1"/><rect x="264" y="526" width="1" height="1"/><rect x="268" y="523" width="1" height="1"/><rect x="269" y="522" width="1" height="1"/><rect x="270" y="521" width="1" height="1"/><rect x="273" y="517" width="1" height="1"/><rect x="274" y="516" width="1" height="1"/><rect x="275" y="515" width="1" height="1"/><rect x="278" y="511" width="1" height="1"/><rect x="279" y="510" width="1" height="1"/><rect x="280" y="509" width="1" height="1"/><rect x="283" y="505" width="1" height="1"/><rect x="284" y="504" width="1" height="1"/><rect x="285" y="503" width="1" height="1"/><rect x="289" y="500" width="1" height="1"/><rect x="290" y="499" width="1" height="1"/><rect x="291" y="499" width="1" height="1"/><rect x="295" y="497" width="1" height="1"/><rect x="296" y="497" width="1" height="1"/><rect x="297" y="497" width="1" height="1"/><rect x="301" y="498" width="1" height="1"/><rect x="302" y="499" width="1" height="1"/><rect x="303" y="499" width="1" height="1"/><rect x="307" y="501" width="1" height="1"/><rect x="308" y="502" width="1" height="1"/><rect x="309" y="502" width="1" height="1"/><rect x="313" y="504" width="1" height="1"/><rect x="314" y="505" width="1" height="1"/><rect x="315" y="505" width="1" height="1"/><rect x="319" y="508" width="1" height="1"/><rect x="320" y="508" width="1" height="1"/><rect x="321" y="509" width="1" height="1"/><rect x="325" y="510" width="1" height="1"/><rect x="326" y="510" width="1" height="1"/><rect x="327" y="510" width="1" height="1"/><rect x="331" y="511" width="1" height="1"/><rect x="332" y="511" width="1" height="1"/><rect x="333" y="510" width="1" height="1"/><rect x="337" y="509" width="1" height="1"/><rect x="338" y="509" width="1" height="1"/><rect x="339" y="509" width="1" height="1"/><rect x="343" y="506" width="1" height="1"/><rect x="344" y="505" width="1" height="1"/><rect x="345" y="505" width="1" height="1"/><rect x="349" y="503" width="1" height="1"/><rect x="350" y="502" width="1" height="1"/><rect x="351" y="502" width="1" height="1"/><rect x="355" y="499" width="1" height="1"/><rect x="356" y="499" width="1" height="1"/><rect x="357" y="498" width="1" height="1"/><rect x="361" y="497" width="1" height="1"/><rect x="362" y="497" width="1" height="1"/><rect x="363" y="497" width="1" height="1"/><rect x="367" y="496" width="1" height="1"/><rect x="368" y="496" width="1" height="1"/><rect x="369" y="496" width="1" height="1"/><rect x="373" y="496" width="1" height="1"/><rect x="374" y="496" width="1" height="1"/><rect x="375" y="496" width="1" height="1"/><rect x="379" y="497" width="1" height="1"/><rect x="380" y="496" width="1" height="1"/><rect x="381" y="496" width="1" height="1"/><rect x="385" y="494" width="1" height="1"/><rect x="386" y="494" width="1" height="1"/><rect x="387" y="494" width="1" height="1"/><rect x="391" y="492" width="1" height="1"/><rect x="392" y="491" width="1" height="1"/><rect x="393" y="491" width="1" height="1"/><rect x="397" y="489" width="1" height="1"/><rect x="398" y="489" width="1" height="1"/><rect x="399" y="489" width="1" height="1"/><rect x="403" y="487" width="1" height="1"/><rect x="404" y="486" width="1" height="1"/><rect x="405" y="485" width="1" height="1"/><rect x="409" y="483" width="1" height="1"/><rect x="410" y="483" width="1" height="1"/><rect x="411" y="483" width="1" height="1"/><rect x="415" y="480" width="1" height="1"/><rect x="416" y="479" width="1" height="1"/><rect x="417" y="479" width="1" height="1"/><rect x="421" y="476" width="1" height="1"/><rect x="422" y="476" width="1" height="1"/><rect x="423" y="475" width="1" height="1"/><rect x="427" y="474" width="1" height="1"/><rect x="428" y="474" width="1" height="1"/><rect x="429" y="473" width="1" height="1"/><rect x="433" y="473" width="1" height="1"/><rect x="434" y="473" width="1" height="1"/><rect x="435" y="473" width="1" height="1"/><rect x="439" y="474" width="1" height="1"/><rect x="440" y="474" width="1" height="1"/><rect x="441" y="475" width="1" height="1"/><rect x="445" y="476" width="1" height="1"/><rect x="446" y="477" width="1" height="1"/><rect x="447" y="477" width="1" height="1"/><rect x="451" y="480" width="1" height="1"/><rect x="452" y="481" width="1" height="1"/><rect x="453" y="481" width="1" height="1"/><rect x="457" y="483" width="1" height="1"/><rect x="458" y="484" width="1" height="1"/><rect x="459" y="484" width="1" height="1"/><rect x="463" y="486" width="1" height="1"/><rect x="464" y="486" width="1" height="1"/><rect x="465" y="485" width="1" height="1"/><rect x="469" y="484" width="1" height="1"/><rect x="470" y="484" width="1" height="1"/><rect x="471" y="484" width="1" height="1"/><rect x="475" y="482" width="1" height="1"/><rect x="476" y="482" width="1" height="1"/><rect x="477" y="481" width="1" height="1"/><rect x="481" y="480" width="1" height="1"/><rect x="482" y="480" width="1" height="1"/><rect x="483" y="480" width="1" height="1"/><rect x="487" y="480" width="1" height="1"/><rect x="488" y="481" width="1" height="1"/><rect x="489" y="481" width="1" height="1"/><rect x="493" y="483" width="1" height="1"/><rect x="494" y="484" width="1" height="1"/><rect x="495" y="484" width="1" height="1"/><rect x="499" y="488" width="1" height="1"/><rect x="500" y="489" width="1" height="1"/><rect x="501" y="490" width="1" height="1"/><rect x="505" y="494" width="1" height="1"/><rect x="505" y="495" width="1" height="1"/><rect x="506" y="496" width="1" height="1"/><rect x="509" y="500" width="1" height="1"/><rect x="510" y="501" width="1" height="1"/><rect x="511" y="502" width="1" height="1"/><rect x="514" y="506" width="1" height="1"/><rect x="514" y="507" width="1" height="1"/><rect x="515" y="508" width="1" height="1"/><rect x="519" y="508" width="1" height="1"/><rect x="520" y="507" width="1" height="1"/><rect x="521" y="507" width="1" height="1"/><rect x="525" y="504" width="1" height="1"/><rect x="525" y="503" width="1" height="1"/><rect x="526" y="502" width="1" height="1"/><rect x="529" y="498" width="1" height="1"/><rect x="529" y="497" width="1" height="1"/><rect x="530" y="496" width="1" height="1"/><rect x="532" y="492" width="1" height="1"/><rect x="532" y="491" width="1" height="1"/><rect x="532" y="490" width="1" height="1"/><rect x="534" y="486" width="1" height="1"/><rect x="534" y="485" width="1" height="1"/><rect x="535" y="484" width="1" height="1"/><rect x="536" y="480" width="1" height="1"/><rect x="537" y="479" width="1" height="1"/><rect x="537" y="478" width="1" height="1"/><rect x="539" y="474" width="1" height="1"/><rect x="539" y="473" width="1" height="1"/><rect x="540" y="472" width="1" height="1"/><rect x="542" y="468" width="1" height="1"/><rect x="542" y="467" width="1" height="1"/><rect x="543" y="466" width="1" height="1"/><rect x="545" y="462" width="1" height="1"/><rect x="546" y="461" width="1" height="1"/><rect x="547" y="460" width="1" height="1"/><rect x="551" y="456" width="1" height="1"/><rect x="552" y="455" width="1" height="1"/><rect x="553" y="454" width="1" height="1"/><rect x="557" y="452" width="1" height="1"/><rect x="558" y="452" width="1" height="1"/><rect x="559" y="452" width="1" height="1"/><rect x="563" y="453" width="1" height="1"/><rect x="564" y="453" width="1" height="1"/><rect x="565" y="454" width="1" height="1"/><rect x="569" y="455" width="1" height="1"/><rect x="570" y="455" width="1" height="1"/><rect x="571" y="455" width="1" height="1"/><rect x="575" y="457" width="1" height="1"/><rect x="576" y="458" width="1" height="1"/><rect x="577" y="458" width="1" height="1"/><rect x="581" y="460" width="1" height="1"/><rect x="582" y="460" width="1" height="1"/><rect x="583" y="460" width="1" height="1"/><rect x="587" y="459" width="1" height="1"/><rect x="588" y="459" width="1" height="1"/><rect x="589" y="459" width="1" height="1"/><rect x="593" y="458" width="1" height="1"/><rect x="594" y="458" width="1" height="1"/><rect x="595" y="458" width="1" height="1"/><rect x="599" y="459" width="1" height="1"/><rect x="600" y="460" width="1" height="1"/><rect x="601" y="460" width="1" height="1"/><rect x="605" y="463" width="1" height="1"/><rect x="606" y="463" width="1" height="1"/><rect x="607" y="464" width="1" height="1"/><rect x="611" y="467" width="1" height="1"/><rect x="612" y="468" width="1" height="1"/><rect x="613" y="468" width="1" height="1"/><rect x="617" y="470" width="1" height="1"/><rect x="618" y="471" width="1" height="1"/><rect x="619" y="471" width="1" height="1"/><rect x="623" y="473" width="1" height="1"/><rect x="624" y="474" width="1" height="1"/><rect x="625" y="474" width="1" height="1"/><rect x="629" y="475" width="1" height="1"/><rect x="630" y="475" width="1" height="1"/><rect x="631" y="475" width="1" height="1"/><rect x="635" y="476" width="1" height="1"/><rect x="636" y="476" width="1" height="1"/><rect x="637" y="475" width="1" height="1"/><rect x="641" y="474" width="1" height="1"/><rect x="642" y="474" width="1" height="1"/><rect x="643" y="474" width="1" height="1"/><rect x="647" y="474" width="1" height="1"/><rect x="648" y="474" width="1" height="1"/><rect x="649" y="474" width="1" height="1"/><rect x="653" y="474" width="1" height="1"/><rect x="654" y="474" width="1" height="1"/><rect x="655" y="474" width="1" height="1"/><rect x="659" y="474" width="1" height="1"/><rect x="660" y="473" width="1" height="1"/><rect x="661" y="473" width="1" height="1"/><rect x="665" y="470" width="1" height="1"/><rect x="666" y="470" width="1" height="1"/><rect x="667" y="469" width="1" height="1"/><rect x="671" y="466" width="1" height="1"/><rect x="672" y="466" width="1" height="1"/><rect x="673" y="465" width="1" height="1"/><rect x="677" y="465" width="1" height="1"/><rect x="678" y="465" width="1" height="1"/><rect x="679" y="465" width="1" height="1"/><rect x="683" y="467" width="1" height="1"/><rect x="684" y="468" width="1" height="1"/><rect x="685" y="469" width="1" height="1"/><rect x="689" y="472" width="1" height="1"/><rect x="689" y="473" width="1" height="1"/><rect x="690" y="474" width="1" height="1"/><rect x="693" y="478" width="1" height="1"/><rect x="693" y="479" width="1" height="1"/><rect x="694" y="480" width="1" height="1"/><rect x="696" y="484" width="1" height="1"/><rect x="697" y="485" width="1" height="1"/><rect x="697" y="486" width="1" height="1"/><rect x="699" y="490" width="1" height="1"/><rect x="700" y="491" width="1" height="1"/><rect x="700" y="492" width="1" height="1"/><rect x="702" y="496" width="1" height="1"/><rect x="703" y="497" width="1" height="1"/><rect x="703" y="498" width="1" height="1"/><rect x="705" y="502" width="1" height="1"/><rect x="705" y="503" width="1" height="1"/><rect x="705" y="504" width="1" height="1"/><rect x="707" y="508" width="1" height="1"/><rect x="708" y="509" width="1" height="1"/><rect x="708" y="510" width="1" height="1"/><rect x="710" y="514" width="1" height="1"/><rect x="711" y="515" width="1" height="1"/><rect x="711" y="516" width="1" height="1"/><rect x="714" y="520" width="1" height="1"/><rect x="714" y="521" width="1" height="1"/><rect x="715" y="522" width="1" height="1"/><rect x="717" y="526" width="1" height="1"/><rect x="718" y="527" width="1" height="1"/><rect x="718" y="528" width="1" height="1"/><rect x="721" y="532" width="1" height="1"/><rect x="722" y="533" width="1" height="1"/><rect x="723" y="534" width="1" height="1"/><rect x="726" y="538" width="1" height="1"/><rect x="727" y="539" width="1" height="1"/></g>
<rect x="758" y="0" width="42" height="600" fill="#fffafa"/>
<rect x="0" y="580" width="800" height="20" fill="#fffafa"/>
<rect x="0" y="0" width="2" height="600" fill="#fffafa"/>
<rect x="0" y="0" width="800" height="2" fill="#fffafa"/>
<rect x="0" y="441" width="800" height="1" fill="#fffafa"/>
<rect x="71" y="441" width="1" height="1" fill="#000"/>
<rect x="167" y="441" width="1" height="1" fill="#000"/>
<rect x="259" y="441" width="1" height="1" fill="#000"/>
<rect x="355" y="441" width="1" height="1" fill="#000"/>
<rect x="451" y="441" width="1" height="1" fill="#000"/>
<rect x="547" y="441" width="1" height="1" fill="#000"/>
<rect x="643" y="441" width="1" height="1" fill="#000"/>
<rect x="739" y="441" width="1" height="1" fill="#000"/>
<g fill="none" stroke="#000" stroke-width="1" shape-rendering="crispEdges">
<rect x="2.5" y="2.5" width="755" height="438"/>
<rect x="2.5" y="442.5" width="755" height="137"/>
</g>
<rect x="758" y="41" width="2" height="1" fill="#000"/>
<rect x="758" y="74" width="2" height="1" fill="#000"/>
<rect x="758" y="107" width="2" height="1" fill="#000"/>
<rect x="758" y="140" width="2" height="1" fill="#000"/>
<rect x="758" y="174" width="2" height="1" fill="#000"/>
<rect x="758" y="206" width="2" height="1" fill="#000"/>
<rect x="758" y="239" width="2" height="1" fill="#000"/>
<rect x="758" y="272" width="2" height="1" fill="#000"/>
<rect x="758" y="305" width="2" height="1" fill="#000"/>
<rect x="758" y="338" width="2" height="1" fill="#000"/>
<rect x="758" y="371" width="2" height="1" fill="#000"/>
<rect x="758" y="404" width="2" height="1" fill="#000"/>
<rect x="758" y="437" width="2" height="1" fill="#000"/>
<rect x="758" y="8" width="1" height="1" fill="#000"/>
<rect x="758" y="444" width="1" height="1" fill="#000"/>
<rect x="758" y="511" width="2" height="1" fill="#000"/>
<text x="763.09" y="45" font-size="10.0" fill="#000" stroke="#000" stroke-width="0.1" textLength="33.06" lengthAdjust="spacingAndGlyphs">1.25430</text>
<text x="763.09" y="78" font-size="10.0" fill="#000" stroke="#000" stroke-width="0.1" textLength="33.06" lengthAdjust="spacingAndGlyphs">1.25135</text>
<text x="763.09" y="111" font-size="10.0" fill="#000" stroke="#000" stroke-width="0.1" textLength="33.06" lengthAdjust="spacingAndGlyphs">1.24845</text>
<text x="763.09" y="144" font-size="10.0" fill="#000" stroke="#000" stroke-width="0.1" textLength="33.06" lengthAdjust="spacingAndGlyphs">1.24555</text>
<text x="763.09" y="178" font-size="10.0" fill="#000" stroke="#000" stroke-width="0.1" textLength="33.06" lengthAdjust="spacingAndGlyphs">1.24265</text>
<text x="763.09" y="210" font-size="10.0" fill="#000" stroke="#000" stroke-width="0.1" textLength="33.06" lengthAdjust="spacingAndGlyphs">1.23975</text>
<text x="763.09" y="243" font-size="10.0" fill="#000" stroke="#000" stroke-width="0.1" textLength="33.06" lengthAdjust="spacingAndGlyphs">1.23685</text>
<text x="763.09" y="276" font-size="10.0" fill="#000" stroke="#000" stroke-width="0.1" textLength="33.06" lengthAdjust="spacingAndGlyphs">1.23395</text>
<text x="763.09" y="309" font-size="10.0" fill="#000" stroke="#000" stroke-width="0.1" textLength="33.06" lengthAdjust="spacingAndGlyphs">1.23105</text>
<text x="763.09" y="342" font-size="10.0" fill="#000" stroke="#000" stroke-width="0.1" textLength="33.06" lengthAdjust="spacingAndGlyphs">1.22810</text>
<text x="763.09" y="375" font-size="10.0" fill="#000" stroke="#000" stroke-width="0.1" textLength="33.06" lengthAdjust="spacingAndGlyphs">1.22520</text>
<text x="763.09" y="408" font-size="10.0" fill="#000" stroke="#000" stroke-width="0.1" textLength="33.06" lengthAdjust="spacingAndGlyphs">1.22230</text>
<text x="763.09" y="441" font-size="10.0" fill="#000" stroke="#000" stroke-width="0.1" textLength="33.06" lengthAdjust="spacingAndGlyphs">1.21940</text>
<text x="761.00" y="453" font-size="10.0" fill="#000" stroke="#000" stroke-width="0.1" textLength="36.75" lengthAdjust="spacingAndGlyphs">0.007599</text>
<text x="761.00" y="515" font-size="10.0" fill="#000" stroke="#000" stroke-width="0.1" textLength="18.44" lengthAdjust="spacingAndGlyphs">0.00</text>
<text x="760.05" y="576" font-size="10.0" fill="#000" stroke="#000" stroke-width="0.1" textLength="37.41" lengthAdjust="spacingAndGlyphs">-0.00762</text>
<rect x="759" y="5" width="41" height="11" fill="#ff0000"/>
<rect x="759" y="255" width="41" height="11" fill="#ff0000"/>
<rect x="759" y="338" width="41" height="11" fill="#ff0000"/>
<rect x="759" y="385" width="41" height="11" fill="#ff0000"/>
<rect x="759" y="418" width="41" height="11" fill="#ff0000"/>
<rect x="759" y="192" width="41" height="11" fill="#000"/>
<rect x="3" y="580" width="1" height="3" fill="#000"/>
<rect x="67" y="580" width="1" height="3" fill="#000"/>
<rect x="131" y="580" width="1" height="3" fill="#000"/>
<rect x="195" y="580" width="1" height="3" fill="#000"/>
<rect x="259" y="580" width="1" height="3" fill="#000"/>
<rect x="323" y="580" width="1" height="3" fill="#000"/>
<rect x="387" y="580" width="1" height="3" fill="#000"/>
<rect x="451" y="580" width="1" height="3" fill="#000"/>
<rect x="515" y="580" width="1" height="3" fill="#000"/>
<rect x="579" y="580" width="1" height="3" fill="#000"/>
<rect x="643" y="580" width="1" height="3" fill="#000"/>
<rect x="707" y="580" width="1" height="3" fill="#000"/>
<path d="M6,9 L13,9 L9.5,13 Z" fill="#000"/>
<text x="763.09" y="14" font-size="10.0" fill="#fff" stroke="#fff" stroke-width="0.1" textLength="33.06" lengthAdjust="spacingAndGlyphs">1.25691</text>
<text x="763.09" y="264" font-size="10.0" fill="#fff" stroke="#fff" stroke-width="0.1" textLength="33.06" lengthAdjust="spacingAndGlyphs">1.23491</text>
<text x="763.09" y="347" font-size="10.0" fill="#fff" stroke="#fff" stroke-width="0.1" textLength="33.06" lengthAdjust="spacingAndGlyphs">1.22757</text>
<text x="763.09" y="394" font-size="10.0" fill="#fff" stroke="#fff" stroke-width="0.1" textLength="33.06" lengthAdjust="spacingAndGlyphs">1.22348</text>
<text x="763.09" y="427" font-size="10.0" fill="#fff" stroke="#fff" stroke-width="0.1" textLength="33.06" lengthAdjust="spacingAndGlyphs">1.22054</text>
<text x="763.09" y="201" font-size="10.0" fill="#fff" stroke="#fff" stroke-width="0.1" textLength="33.06" lengthAdjust="spacingAndGlyphs">1.24055</text>
<text x="2.06" y="592" font-size="10.0" fill="#000" stroke="#000" stroke-width="0.1" textLength="47.51" lengthAdjust="spacingAndGlyphs">7 Feb 2018</text>
<text x="66.06" y="592" font-size="10.0" fill="#000" stroke="#000" stroke-width="0.1" textLength="50.30" lengthAdjust="spacingAndGlyphs">7 Feb 23:00</text>
<text x="130.06" y="592" font-size="10.0" fill="#000" stroke="#000" stroke-width="0.1" textLength="50.30" lengthAdjust="spacingAndGlyphs">8 Feb 15:00</text>
<text x="194.06" y="592" font-size="10.0" fill="#000" stroke="#000" stroke-width="0.1" textLength="50.30" lengthAdjust="spacingAndGlyphs">9 Feb 07:00</text>
<text x="258.07" y="592" font-size="10.0" fill="#000" stroke="#000" stroke-width="0.1" textLength="54.87" lengthAdjust="spacingAndGlyphs">12 Feb 00:00</text>
<text x="322.07" y="592" font-size="10.0" fill="#000" stroke="#000" stroke-width="0.1" textLength="54.87" lengthAdjust="spacingAndGlyphs">12 Feb 16:00</text>
<text x="386.07" y="592" font-size="10.0" fill="#000" stroke="#000" stroke-width="0.1" textLength="54.87" lengthAdjust="spacingAndGlyphs">13 Feb 08:00</text>
<text x="450.07" y="592" font-size="10.0" fill="#000" stroke="#000" stroke-width="0.1" textLength="54.87" lengthAdjust="spacingAndGlyphs">14 Feb 00:00</text>
<text x="514.07" y="592" font-size="10.0" fill="#000" stroke="#000" stroke-width="0.1" textLength="54.87" lengthAdjust="spacingAndGlyphs">14 Feb 16:00</text>
<text x="578.07" y="592" font-size="10.0" fill="#000" stroke="#000" stroke-width="0.1" textLength="54.87" lengthAdjust="spacingAndGlyphs">15 Feb 08:00</text>
<text x="642.07" y="592" font-size="10.0" fill="#000" stroke="#000" stroke-width="0.1" textLength="54.87" lengthAdjust="spacingAndGlyphs">16 Feb 00:00</text>
<text x="706.07" y="592" font-size="10.0" fill="#000" stroke="#000" stroke-width="0.1" textLength="54.87" lengthAdjust="spacingAndGlyphs">16 Feb 16:00</text>
<text x="18.07" y="14" font-size="10.0" fill="#000" stroke="#000" stroke-width="0.1" textLength="53.67" lengthAdjust="spacingAndGlyphs">EURUSD,H1</text>
<text x="78.08" y="14" font-size="10.0" fill="#000" stroke="#000" stroke-width="0.1" textLength="140.86" lengthAdjust="spacingAndGlyphs">1.24153 1.24155 1.24035 1.24055</text>
<text x="7.06" y="455" font-size="10.0" fill="#000" stroke="#000" stroke-width="0.1" textLength="149.45" lengthAdjust="spacingAndGlyphs">MACD(5,34,5) -0.004610 -0.003647</text>
</svg></body></html>
